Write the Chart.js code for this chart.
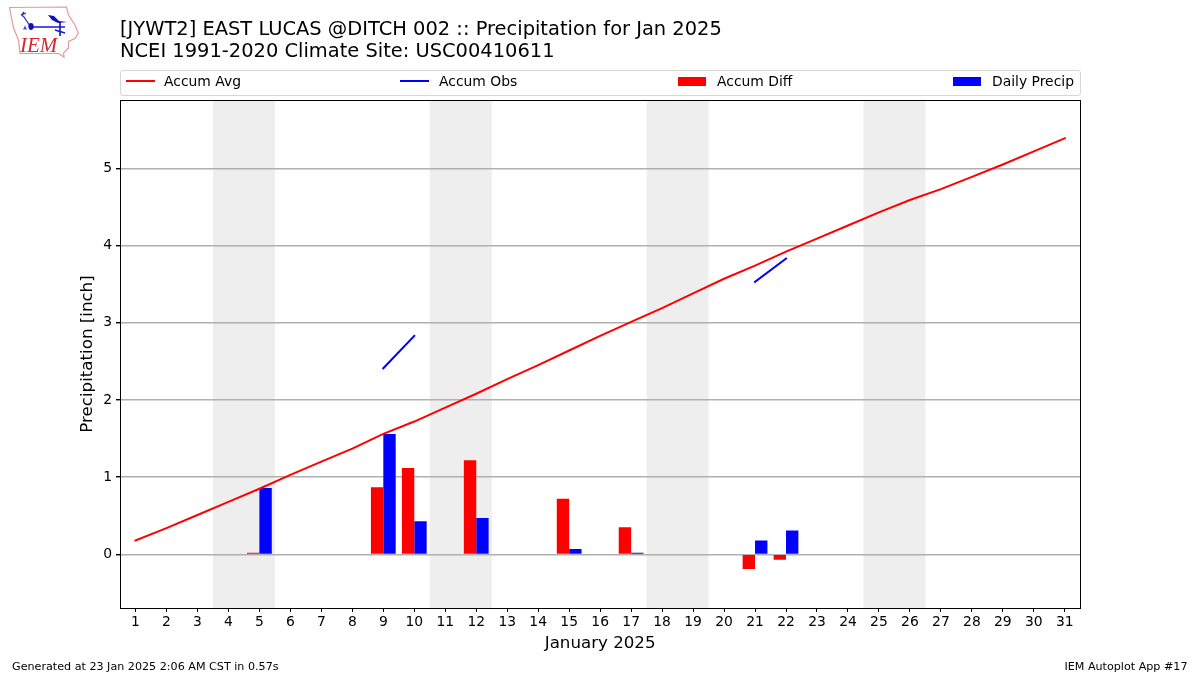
<!DOCTYPE html>
<html><head><meta charset="utf-8">
<script src="https://cdn.jsdelivr.net/npm/chart.js@4"></script>
<style>
html,body{margin:0;padding:0;background:#fff;width:1200px;height:675px;overflow:hidden;font-family:"DejaVu Sans",sans-serif;color:#000}
#wrap{position:relative;width:1200px;height:675px}
canvas{position:absolute;left:0;top:0}
.abs{position:absolute;white-space:nowrap}
#title{left:120px;top:18px;font-size:19.45px;line-height:22px}
#legend{left:120px;top:70px;width:959px;height:24px;border:1px solid #d5d5d5;border-radius:3px;background:#fff}
.li{position:absolute;top:0;height:24px;font-size:13.9px;line-height:22px}
.li i{position:absolute;left:0;display:block}
.li span{position:absolute;top:-1px;white-space:nowrap}
.foot{font-size:11.15px;top:660px}
</style></head><body>
<div id="wrap">
<canvas id="c" width="1200" height="675"></canvas>
<svg class="abs" style="left:0;top:0" width="90" height="62" viewBox="0 0 90 62">
<path d="M9.5 7.5 L66.5 7 L68.5 15 L75 25 L78.3 33 L75 38.5 L68.5 41.5 L68.5 48 L63.5 53 L64 57 L58.5 53.5 L20 53.5 L18.5 40 L13.5 28 Z" fill="#fff" stroke="#e39a9a" stroke-width="1.2"/>
<path d="M24 12 L21.5 15 L24 17 L30 26 M21.5 15 L26 13" fill="none" stroke="#2a2ad0" stroke-width="1.2"/>
<path d="M31 27 H65 M60 22 V36 M55 30 L65 33" fill="none" stroke="#1a1ad0" stroke-width="1.7"/>
<ellipse cx="31" cy="26.5" rx="2.6" ry="3.4" fill="#1010b8"/>
<path d="M48 15 L54 16 L59 21 L67 22 L58 23 L52 20 Z" fill="#1010b8"/>
<path d="M23 29.5 L25 25.5 L27 29.5 Z" fill="#4a4ad8"/>
<text x="20" y="52" font-family="Liberation Serif" font-style="italic" font-size="21" fill="#d2282e">IEM</text>
</svg>
<div id="title" class="abs">[JYWT2] EAST LUCAS @DITCH 002 :: Precipitation for Jan 2025<br>NCEI 1991-2020 Climate Site: USC00410611</div>
<div id="legend" class="abs"></div>
<div class="abs foot" style="left:12px">Generated at 23 Jan 2025 2:06 AM CST in 0.57s</div>
<div class="abs foot" style="right:12.5px">IEM Autoplot App #17</div>
</div>
<script>
const categories = ["1","2","3","4","5","6","7","8","9","10","11","12","13","14","15","16","17","18","19","20","21","22","23","24","25","26","27","28","29","30","31"];
const accumAvg = [0.18,0.34,0.51,0.68,0.85,1.03,1.20,1.37,1.56,1.72,1.90,2.08,2.27,2.45,2.64,2.83,3.01,3.19,3.38,3.57,3.74,3.92,4.09,4.26,4.43,4.59,4.73,4.89,5.05,5.22,5.39];
const accumObs = [null,null,null,null,null,null,null,null,2.41,2.83,null,null,null,null,null,null,null,null,null,null,3.53,3.83,null,null,null,null,null,null,null,null,null];
const accumDiff = [null,null,null,null,0.02,null,null,null,0.87,1.12,null,1.22,null,null,0.72,null,0.35,null,null,null,-0.19,-0.07,null,null,null,null,null,null,null,null,null];
const dailyPrecip = [null,null,null,null,0.86,null,null,null,1.56,0.43,null,0.47,null,null,0.07,null,0.02,null,null,null,0.18,0.31,null,null,null,null,null,null,null,null,null];
const weekendSpans = [["4","5"],["11","12"],["18","19"],["25","26"]];
const yTicks = [0,1,2,3,4,5];
const yMin = -0.695, yMax = 5.885;
const seriesNames = ["Accum Avg","Accum Obs","Accum Diff","Daily Precip"];

const FONT = '"DejaVu Sans", sans-serif';
const bands = {
  id:'bands',
  beforeDraw(ch){
    const {ctx,chartArea:a,scales:{x}} = ch;
    ctx.save(); ctx.fillStyle='#eeeeee';
    weekendSpans.forEach(([s,e])=>{
      const half = (x.getPixelForTick(1)-x.getPixelForTick(0))/2;
      const x0 = x.getPixelForValue(categories.indexOf(s))-half;
      const x1 = x.getPixelForValue(categories.indexOf(e))+half;
      ctx.fillRect(x0,a.top,x1-x0,a.bottom-a.top);
    });
    ctx.restore();
  }
};
const frame = {
  id:'frame',
  afterDraw(ch){
    const {ctx,chartArea:a} = ch;
    ctx.save(); ctx.strokeStyle='#000'; ctx.lineWidth=1;
    ctx.strokeRect(Math.floor(a.left)+0.5,Math.floor(a.top)+0.5,Math.floor(a.right-a.left),Math.round(a.bottom-a.top));
    ctx.restore();
  }
};
new Chart(document.getElementById('c'),{
  data:{labels:categories,datasets:[
    {type:'line',label:seriesNames[0],data:accumAvg,borderColor:'#ff0000',borderWidth:2,borderCapStyle:'square',pointRadius:0,tension:0,order:1},
    {type:'line',label:seriesNames[1],data:accumObs,borderColor:'#0000ff',borderWidth:2,borderCapStyle:'square',pointRadius:0,tension:0,spanGaps:false,order:2},
    {type:'bar',label:seriesNames[2],data:accumDiff,backgroundColor:'#ff0000',categoryPercentage:0.8,barPercentage:1,order:3},
    {type:'bar',label:seriesNames[3],data:dailyPrecip,backgroundColor:'#0000ff',categoryPercentage:0.8,barPercentage:1,order:4}
  ]},
  plugins:[bands,frame],
  options:{
    responsive:false,animation:false,devicePixelRatio:1,
    layout:{padding:{left:60,right:119.7,top:100,bottom:17}},
    plugins:{legend:{display:false},title:{display:false},tooltip:{enabled:false}},
    scales:{
      x:{type:'category',offset:true,
        afterFit(s){s.height=50;},
        grid:{display:true,drawOnChartArea:false,offset:false,tickColor:'#000',tickLength:4,tickWidth:1},
        border:{display:false},
        ticks:{color:'#000',font:{family:FONT,size:13.9},maxRotation:0,autoSkip:false,padding:2},
        title:{display:true,text:'January 2025',color:'#000',font:{family:FONT,size:16.67},padding:{top:0,bottom:4}}
      },
      y:{type:'linear',min:yMin,max:yMax,
        afterFit(s){s.width=60;},
        afterBuildTicks(s){s.ticks=yTicks.map(v=>({value:v}));},
        grid:{color:'#b0b0b0',tickColor:'#000',tickLength:4,lineWidth:1.4},
        border:{display:false},
        ticks:{color:'#000',font:{family:FONT,size:13.9},padding:4},
        title:{display:true,text:'Precipitation [inch]',color:'#000',font:{family:FONT,size:16.67},padding:{top:18,bottom:0}}
      }
    }
  }
});
const legendEl=document.getElementById('legend');
const legendPos=[{l:5,t:9,w:29,h:2,c:'#ff0000',x:43},{l:279,t:9,w:29,h:2,c:'#0000ff',x:318},{l:557,t:6,w:28,h:9,c:'#ff0000',x:596},{l:832,t:6,w:28,h:9,c:'#0000ff',x:871}];
seriesNames.forEach((n,i)=>{
  const p=legendPos[i];const d=document.createElement('div');d.className='li';d.style.left='0';
  d.innerHTML=`<i style="left:${p.l}px;top:${p.t}px;width:${p.w}px;height:${p.h}px;background:${p.c}"></i><span style="left:${p.x}px">${n}</span>`;
  legendEl.appendChild(d);
});
</script>
</body></html>
